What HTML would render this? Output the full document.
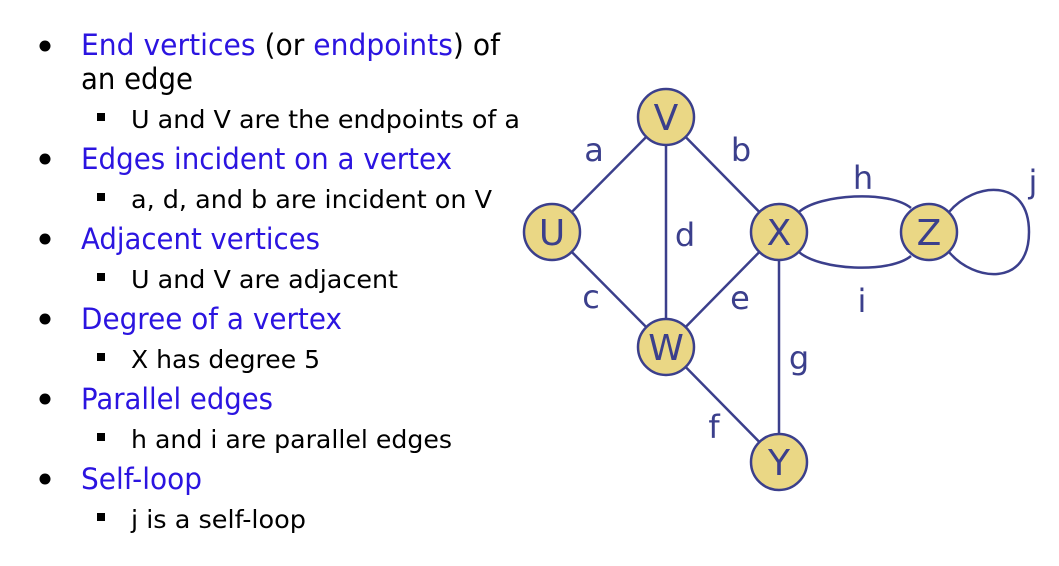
<!DOCTYPE html>
<html><head><meta charset="utf-8"><style>
html,body{margin:0;padding:0;background:#fff;}
svg{display:block;font-family:"DejaVu Sans","Liberation Sans",sans-serif;}
</style></head><body>
<svg id="s" width="1059" height="566" viewBox="0 0 1059 566">
<g font-size="29">
  <circle cx="45" cy="46" r="5.5" fill="#000"/>
  <text x="81" y="55" textLength="419" lengthAdjust="spacingAndGlyphs"><tspan fill="#2b14e0">End vertices</tspan> (or <tspan fill="#2b14e0">endpoints</tspan>) of</text>
  <text x="81" y="89" textLength="112" lengthAdjust="spacingAndGlyphs">an edge</text>
  <rect x="97" y="113" width="8" height="8" fill="#000"/>
  <text x="131" y="128" font-size="25" textLength="389" lengthAdjust="spacingAndGlyphs">U and V are the endpoints of a</text>

  <circle cx="45" cy="159" r="5.5" fill="#000"/>
  <text x="81" y="169" fill="#2b14e0" textLength="371" lengthAdjust="spacingAndGlyphs">Edges incident on a vertex</text>
  <rect x="97" y="193" width="8" height="8" fill="#000"/>
  <text x="131" y="208" font-size="25" textLength="361" lengthAdjust="spacingAndGlyphs">a, d, and b are incident on V</text>

  <circle cx="45" cy="239" r="5.5" fill="#000"/>
  <text x="81" y="249" fill="#2b14e0" textLength="239" lengthAdjust="spacingAndGlyphs">Adjacent vertices</text>
  <rect x="97" y="273" width="8" height="8" fill="#000"/>
  <text x="131" y="288" font-size="25" textLength="267" lengthAdjust="spacingAndGlyphs">U and V are adjacent</text>

  <circle cx="45" cy="319" r="5.5" fill="#000"/>
  <text x="81" y="329" fill="#2b14e0" textLength="261" lengthAdjust="spacingAndGlyphs">Degree of a vertex</text>
  <rect x="97" y="353" width="8" height="8" fill="#000"/>
  <text x="131" y="368" font-size="25" textLength="189" lengthAdjust="spacingAndGlyphs">X has degree 5</text>

  <circle cx="45" cy="399" r="5.5" fill="#000"/>
  <text x="81" y="409" fill="#2b14e0" textLength="192" lengthAdjust="spacingAndGlyphs">Parallel edges</text>
  <rect x="97" y="433" width="8" height="8" fill="#000"/>
  <text x="131" y="448" font-size="25" textLength="321" lengthAdjust="spacingAndGlyphs">h and i are parallel edges</text>

  <circle cx="45" cy="479" r="5.5" fill="#000"/>
  <text x="81" y="489" fill="#2b14e0" textLength="121" lengthAdjust="spacingAndGlyphs">Self-loop</text>
  <rect x="97" y="513" width="8" height="8" fill="#000"/>
  <text x="131" y="528" font-size="25" textLength="175" lengthAdjust="spacingAndGlyphs">j is a self-loop</text>
</g>
<g id="graph"></g>
</svg>
<script>
const nodeNames = ['V','U','X','Z','W','Y'];
const nodeX = [666,552,779,929,666,779];
const nodeY = [117,232,232,232,347,462];
const edgeNames = ['a','b','c','d','e','f','g','h','i','j'];
const edgeFrom = ['U','V','U','V','W','W','X','X','X','Z'];
const edgeTo   = ['V','X','W','W','X','Y','Y','Z','Z','Z'];
const edgeBend = [0,0,0,0,0,0,0,-1,1,0];
const labelX = [594,741,591,685,740,714,799,863,862,1033];
const labelY = [161,161,308,246,309,438,369,189,312,193];

const NS='http://www.w3.org/2000/svg';
const g=document.getElementById('graph');
const C='#3b3f8c', R=28;
function pos(n){const i=nodeNames.indexOf(n);return [nodeX[i],nodeY[i]];}
function mk(t,a){const e=document.createElementNS(NS,t);for(const k in a)e.setAttribute(k,a[k]);return e;}
edgeNames.forEach((nm,i)=>{
  const [x1,y1]=pos(edgeFrom[i]),[x2,y2]=pos(edgeTo[i]);
  let d;
  if(edgeFrom[i]===edgeTo[i]){
    d=`M${x1+20},${y1-20} C${x1+45},${y1-50} ${x1+100},${y1-55} ${x1+100},${y1} C${x1+100},${y1+55} ${x1+45},${y1+50} ${x1+20},${y1+20}`;
  } else if(edgeBend[i]){
    const s=edgeBend[i];
    d=`M${x1+20},${y1+s*20} C${x1+40},${y1+s*38} ${x2-40},${y2+s*42} ${x2-18},${y2+s*24}`;
  } else d=`M${x1},${y1} L${x2},${y2}`;
  const p=mk('path',{d:d,fill:'none',stroke:C,'stroke-width':2.5});
  
  
  g.appendChild(p);
  const t=mk('text',{x:labelX[i],y:labelY[i],'text-anchor':'middle','font-size':32,fill:C});
  t.textContent=nm;
  
  
  g.appendChild(t);
});
nodeNames.forEach((nm,i)=>{
  const c=mk('circle',{cx:nodeX[i],cy:nodeY[i],r:R,fill:'#ead785',stroke:C,'stroke-width':2.5});
  
  
  g.appendChild(c);
  const t=mk('text',{x:nodeX[i],y:nodeY[i]+13,'text-anchor':'middle','font-size':36,fill:C});
  t.textContent=nm;
  
  
  g.appendChild(t);
});
</script>
</body></html>
